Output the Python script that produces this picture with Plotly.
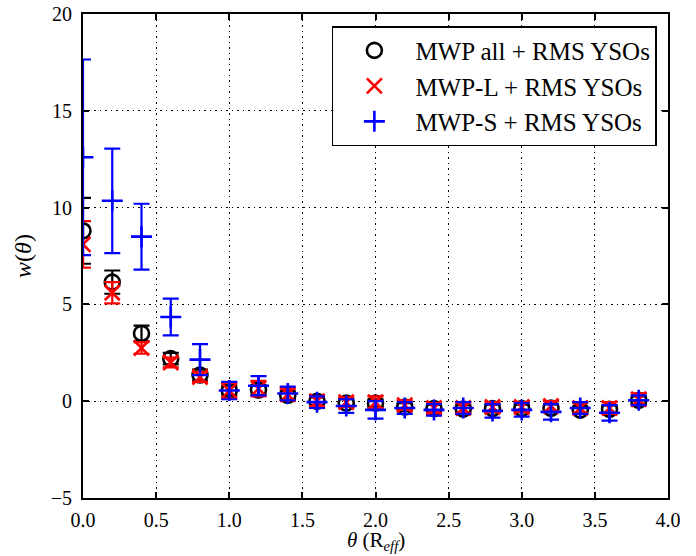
import plotly.graph_objects as go

theta = [0.0, 0.2, 0.4, 0.6, 0.8, 1.0, 1.2, 1.4, 1.6, 1.8,
         2.0, 2.2, 2.4, 2.6, 2.8, 3.0, 3.2, 3.4, 3.6, 3.8]

all_w = [8.8, 6.15, 3.5, 2.2, 1.35, 0.55, 0.58, 0.3, 0.0, -0.1,
         -0.1, -0.3, -0.38, -0.4, -0.38, -0.38, -0.36, -0.46, -0.42, 0.05]
all_err = [1.7, 0.6, 0.4, 0.3, 0.28, 0.25, 0.25, 0.22, 0.2, 0.2,
           0.2, 0.2, 0.2, 0.2, 0.2, 0.2, 0.2, 0.2, 0.2, 0.2]

l_w = [8.1, 5.6, 2.75, 2.0, 1.25, 0.55, 0.65, 0.35, 0.0, -0.05,
       -0.05, -0.2, -0.35, -0.35, -0.3, -0.3, -0.25, -0.35, -0.35, 0.1]
l_err = [1.2, 0.55, 0.3, 0.25, 0.25, 0.4, 0.4, 0.3, 0.25, 0.25,
         0.3, 0.25, 0.25, 0.25, 0.25, 0.25, 0.25, 0.25, 0.3, 0.3]

s_w = [12.6, 10.35, 8.5, 4.35, 2.15, 0.55, 0.8, 0.4, -0.05, -0.25,
       -0.45, -0.35, -0.45, -0.35, -0.5, -0.45, -0.55, -0.35, -0.6, 0.05]
s_err = [5.05, 2.7, 1.7, 0.95, 0.8, 0.45, 0.5, 0.35, 0.3, 0.35,
         0.45, 0.3, 0.3, 0.3, 0.35, 0.35, 0.4, 0.3, 0.4, 0.25]

x_ticks = [0.0, 0.5, 1.0, 1.5, 2.0, 2.5, 3.0, 3.5, 4.0]
y_ticks = [-5, 0, 5, 10, 15, 20]

x_title = "<i>θ</i> (R<sub><i>eff</i></sub>)"
y_title = "<i>w</i>(<i>θ</i>)"

series = [
    ("MWP all + RMS YSOs", all_w, all_err, "black", "circle-open"),
    ("MWP-L + RMS YSOs", l_w, l_err, "red", "x-thin-open"),
    ("MWP-S + RMS YSOs", s_w, s_err, "blue", "cross-thin-open"),
]

fig = go.Figure()
for name, ys, es, col, sym in series:
    fig.add_trace(go.Scatter(
        x=theta, y=ys, name=name, mode="markers",
        marker=dict(symbol=sym, size=15, color=col, line=dict(color=col, width=2.6)),
        error_y=dict(type="data", array=es, visible=True, color=col, thickness=2.2, width=8),
    ))

font_family = "Liberation Serif, Times New Roman, serif"
axis_common = dict(
    showline=True, linecolor="black", linewidth=2, mirror="ticks",
    ticks="inside", ticklen=6, tickwidth=1.5, tickcolor="black",
    showgrid=True, gridcolor="black", gridwidth=1, griddash="1.5px,4px",
    zeroline=False, automargin=False,
    tickfont=dict(size=20, color="black", family=font_family),
)

fig.update_xaxes(range=[0, 4], tickvals=x_ticks, tickformat=".1f", ticklabelstandoff=3,
                 **axis_common)
fig.update_yaxes(range=[-5, 20], tickvals=y_ticks, ticklabelstandoff=5,
                 title=dict(text=y_title,
                            font=dict(size=24, family=font_family, color="black"), standoff=12),
                 **axis_common)

fig.add_annotation(text=x_title, xref="paper", yref="paper", x=0.5, y=0,
                   xanchor="center", yanchor="bottom", yshift=-57, showarrow=False,
                   borderpad=0,
                   font=dict(size=21, family=font_family, color="black"))

fig.update_layout(
    width=696, height=556,
    margin=dict(l=83, r=28, t=14, b=58, autoexpand=False),
    paper_bgcolor="white", plot_bgcolor="white",
    font=dict(family=font_family, color="black"),
    showlegend=True,
    legend=dict(x=0.981, y=0.975, xanchor="right", yanchor="top",
                bgcolor="white", bordercolor="black", borderwidth=1.5,
                font=dict(size=25, family=font_family, color="black"),
                itemwidth=72, tracegroupgap=0),
)

fig.write_html("out.html", config={"displayModeBar": False},
               post_script="document.body.style.margin='0';document.body.style.overflow='hidden';")
